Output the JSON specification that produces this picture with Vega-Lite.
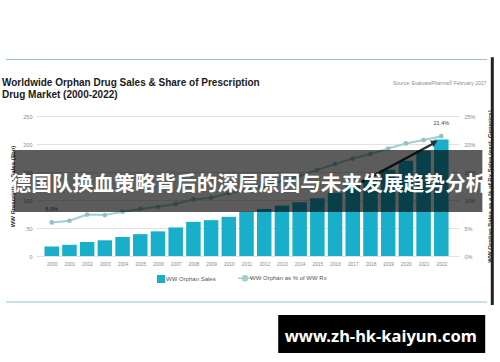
{
  "$schema": "https://vega.github.io/schema/vega-lite/v6.json",
  "width": 423,
  "height": 140,
  "autosize": {"type": "none"},
  "padding": {"left": 36, "top": 116, "right": 41, "bottom": 106},
  "background": "#ffffff",
  "config": {
    "font": "Liberation Sans",
    "view": {"stroke": null},
    "axis": {"labelFont": "Liberation Sans", "titleFont": "Liberation Sans"},
    "axisX": {
      "labelOverlap": false,
      "tickCount": 23,
      "format": "d",
      "grid": false,
      "domain": false,
      "ticks": false,
      "labelPadding": 5,
      "labelFontSize": 4.8,
      "labelColor": "#8a8a8a",
      "labelFlush": false,
      "title": null
    },
    "legend": {"labelFont": "Liberation Sans"}
  },
  "title": {
    "text": ["Worldwide Orphan Drug Sales & Share of Prescription", "Drug Market (2000-2022)"],
    "anchor": "start",
    "frame": "group",
    "dx": -34,
    "dy": 57,
    "offset": 13,
    "fontSize": 10,
    "fontWeight": "bold",
    "lineHeight": 12,
    "color": "#1a1a1a",
    "font": "Liberation Sans"
  },
  "data": {
    "values": [
      {"year": 2000, "sales": 17, "share": 0.060},
      {"year": 2001, "sales": 20, "share": 0.063},
      {"year": 2002, "sales": 25, "share": 0.074},
      {"year": 2003, "sales": 28, "share": 0.073},
      {"year": 2004, "sales": 34, "share": 0.079},
      {"year": 2005, "sales": 39, "share": 0.084},
      {"year": 2006, "sales": 44, "share": 0.088},
      {"year": 2007, "sales": 51, "share": 0.093},
      {"year": 2008, "sales": 61, "share": 0.101},
      {"year": 2009, "sales": 64, "share": 0.104},
      {"year": 2010, "sales": 70, "share": 0.112},
      {"year": 2011, "sales": 79, "share": 0.119},
      {"year": 2012, "sales": 84, "share": 0.126},
      {"year": 2013, "sales": 90, "share": 0.133},
      {"year": 2014, "sales": 96, "share": 0.143},
      {"year": 2015, "sales": 103, "share": 0.154},
      {"year": 2016, "sales": 113, "share": 0.164},
      {"year": 2017, "sales": 126, "share": 0.174},
      {"year": 2018, "sales": 139, "share": 0.182},
      {"year": 2019, "sales": 154, "share": 0.192},
      {"year": 2020, "sales": 170, "share": 0.201},
      {"year": 2021, "sales": 188, "share": 0.207},
      {"year": 2022, "sales": 208, "share": 0.214}
    ]
  },
  "resolve": {"scale": {"y": "independent"}},
  "layer": [
    {
      "mark": {"type": "bar", "width": 14.5},
      "encoding": {
        "x": {
          "field": "year",
          "type": "quantitative",
          "scale": {"domain": [1999.3935, 2022.7175], "nice": false, "zero": false}
        },
        "y": {
          "field": "sales",
          "type": "quantitative",
          "scale": {"domain": [0, 250], "nice": false, "zero": false},
          "axis": {
            "values": [0, 50, 100, 150, 200, 250],
            "title": "WW Prescription Sales ($bn)",
            "titleFontSize": 6,
            "titleFontWeight": "bold",
            "titleColor": "#333333",
            "titlePadding": 7,
            "labelFontSize": 5.5,
            "labelColor": "#8a8a8a",
            "labelPadding": 4,
            "domain": false,
            "ticks": false,
            "grid": true,
            "gridColor": "#e2e2e2",
            "gridWidth": 1
          }
        },
        "color": {
          "datum": "WW Orphan Sales",
          "type": "nominal",
          "scale": {"domain": ["WW Orphan Sales", "WW Orphan as % of WW Rx"], "range": ["#19aec9", "#a3cfcf"]},
          "legend": {
            "title": null,
            "orient": "none",
            "legendX": 122,
            "legendY": 159,
            "direction": "horizontal",
            "symbolSize": 196,
            "labelFontSize": 6,
            "labelColor": "#555555",
            "labelOffset": 2,
            "columnPadding": 19,
            "encode": {
              "symbols": {
                "update": {
                  "shape": {"signal": "datum.value === 'WW Orphan Sales' ? 'M-0.57,-0.57H0.57V0.57H-0.57Z' : 'M-1,0H1M-0.36,0A0.36,0.36 0 1,1 0.36,0A0.36,0.36 0 1,1 -0.36,0Z'"},
                  "fill": {"signal": "datum.value === 'WW Orphan Sales' ? '#19aec9' : '#93c4c4'"},
                  "stroke": {"signal": "datum.value === 'WW Orphan Sales' ? '#19aec9' : '#a3cfcf'"},
                  "strokeWidth": {"signal": "datum.value === 'WW Orphan Sales' ? 0 : 1.5"},
                  "opacity": {"value": 1},
                  "fillOpacity": {"value": 1}
                }
              }
            }
          }
        }
      }
    },
    {
      "data": {"values": [{}]},
      "mark": {"type": "rule", "color": "#93c6c6", "strokeWidth": 1, "clip": false},
      "encoding": {
        "x": {"datum": 1997.41, "type": "quantitative"},
        "x2": {"datum": 2024.59},
        "y": {"datum": 350.9, "type": "quantitative", "scale": {"domain": [0, 250], "nice": false, "zero": false}, "axis": null}
      }
    },
    {
      "data": {"values": [{}]},
      "mark": {"type": "rule", "color": "#b6d6de", "strokeWidth": 1.5, "clip": false},
      "encoding": {
        "x": {"datum": 1997.41, "type": "quantitative"},
        "x2": {"datum": 2024.59},
        "y": {"datum": -82.1, "type": "quantitative", "scale": {"domain": [0, 250], "nice": false, "zero": false}, "axis": null}
      }
    },
    {
      "data": {"values": [{}]},
      "mark": {"type": "rule", "color": "#222222", "strokeWidth": 3, "clip": false},
      "encoding": {
        "x": {"datum": 2024.88, "type": "quantitative"},
        "y": {"datum": 355, "type": "quantitative", "scale": {"domain": [0, 250], "nice": false, "zero": false}, "axis": null},
        "y2": {"datum": -87.5}
      }
    },
    {
      "mark": {"type": "line", "strokeWidth": 2},
      "encoding": {
        "x": {"field": "year", "type": "quantitative"},
        "y": {
          "field": "share",
          "type": "quantitative",
          "scale": {"domain": [0, 0.25], "nice": false, "zero": false},
          "axis": {
            "orient": "right",
            "values": [0, 0.05, 0.1, 0.15, 0.2, 0.25],
            "format": ".0%",
            "title": "WW Orphan Sales as a % of Rx Sales (excl. Generics)",
            "titleAngle": 270,
            "titleFontSize": 6,
            "titleFontWeight": "bold",
            "titleColor": "#333333",
            "titlePadding": 17,
            "labelFontSize": 5.5,
            "labelColor": "#8a8a8a",
            "labelPadding": 5,
            "domain": false,
            "ticks": false,
            "grid": false
          }
        },
        "color": {"datum": "WW Orphan as % of WW Rx", "type": "nominal"}
      }
    },
    {
      "mark": {"type": "point", "filled": true, "size": 22, "color": "#90c2c2", "opacity": 1},
      "encoding": {
        "x": {"field": "year", "type": "quantitative"},
        "y": {"field": "share", "type": "quantitative", "scale": {"domain": [0, 0.25], "nice": false, "zero": false}, "axis": null}
      }
    },
    {
      "transform": [{"filter": "datum.year == 2000 || datum.year == 2022"}],
      "mark": {"type": "text", "fontSize": 5.5, "color": "#444444", "dy": -13, "baseline": "middle", "align": "center"},
      "encoding": {
        "x": {"field": "year", "type": "quantitative"},
        "y": {"field": "share", "type": "quantitative", "scale": {"domain": [0, 0.25], "nice": false, "zero": false}, "axis": null},
        "text": {"field": "share", "type": "quantitative", "format": ".1%"}
      }
    },
    {
      "data": {"values": [{}]},
      "mark": {"type": "rule", "color": "#263238", "strokeWidth": 2.5, "clip": false},
      "encoding": {
        "x": {"datum": 2017.5, "type": "quantitative"},
        "x2": {"datum": 2021.5},
        "y": {"datum": 132, "type": "quantitative", "scale": {"domain": [0, 250], "nice": false, "zero": false}, "axis": null},
        "y2": {"datum": 200}
      }
    },
    {
      "data": {"values": [{}]},
      "mark": {"type": "point", "shape": "triangle-up", "filled": true, "size": 55, "angle": 62, "color": "#263238", "opacity": 1, "clip": false},
      "encoding": {
        "x": {"datum": 2021.62, "type": "quantitative"},
        "y": {"datum": 203, "type": "quantitative", "scale": {"domain": [0, 250], "nice": false, "zero": false}, "axis": null}
      }
    },
    {
      "data": {"values": [{}]},
      "mark": {"type": "text", "fontSize": 5, "color": "#8a8a8a", "align": "right", "baseline": "middle", "clip": false, "text": "Source: EvaluatePharma® February 2017"},
      "encoding": {
        "x": {"datum": 2024.54, "type": "quantitative"},
        "y": {"datum": 308.9, "type": "quantitative", "scale": {"domain": [0, 250], "nice": false, "zero": false}, "axis": null}
      }
    },
    {
      "data": {"values": [{}]},
      "mark": {"type": "rect", "color": "#000000", "opacity": 0.64, "clip": false},
      "encoding": {
        "x": {"datum": 1997.85, "type": "quantitative"},
        "x2": {"datum": 2024.32},
        "y": {"datum": 189.3, "type": "quantitative", "scale": {"domain": [0, 250], "nice": false, "zero": false}, "axis": null},
        "y2": {"datum": 78.6}
      }
    },
    {
      "data": {"values": [{}]},
      "mark": {"type": "text", "font": "Noto Sans CJK SC", "fontWeight": "bold", "fontSize": 20.7, "color": "#ffffff", "align": "center", "baseline": "middle", "clip": false, "text": "德国队换血策略背后的深层原因与未来发展趋势分析"},
      "encoding": {
        "x": {"datum": 2011.11, "type": "quantitative"},
        "y": {"datum": 126.8, "type": "quantitative", "scale": {"domain": [0, 250], "nice": false, "zero": false}, "axis": null}
      }
    },
    {
      "data": {"values": [{}]},
      "mark": {"type": "rect", "color": "#000000", "opacity": 1, "clip": false},
      "encoding": {
        "x": {"datum": 2012.79, "type": "quantitative"},
        "x2": {"datum": 2024.48},
        "y": {"datum": -105.4, "type": "quantitative", "scale": {"domain": [0, 250], "nice": false, "zero": false}, "axis": null},
        "y2": {"datum": -173.2}
      }
    },
    {
      "data": {"values": [{}]},
      "mark": {"type": "text", "font": "Noto Sans", "fontWeight": "bold", "fontSize": 16.5, "color": "#ffffff", "align": "center", "baseline": "middle", "clip": false, "text": "www.zh-hk-kaiyun.com"},
      "encoding": {
        "x": {"datum": 2018.58, "type": "quantitative"},
        "y": {"datum": -144.6, "type": "quantitative", "scale": {"domain": [0, 250], "nice": false, "zero": false}, "axis": null}
      }
    }
  ]
}
